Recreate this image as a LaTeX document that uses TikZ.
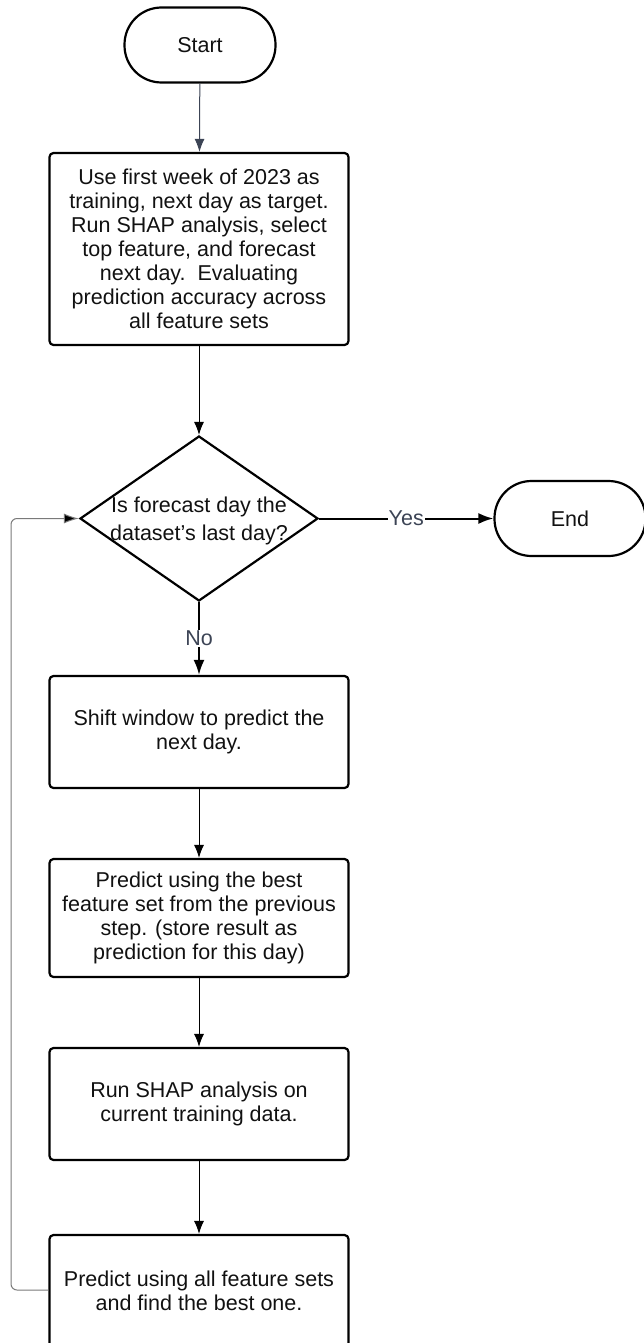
\documentclass[tikz,border=0pt]{standalone}
\usepackage{fontspec}
\setmainfont{Liberation Sans}
\usetikzlibrary{arrows.meta,shapes.geometric}
\definecolor{txt}{HTML}{111111}
\definecolor{slate}{HTML}{3C4455}
\definecolor{loopgray}{HTML}{7A7A7A}
\tikzset{
  base/.style={draw=black,line width=2.2pt,text=txt,align=center,font=\fontsize{21.5}{24}\selectfont},
  term/.style={base,rounded corners=37pt,minimum width=151pt,minimum height=75pt,inner sep=0pt},
  procbox/.style={base,rounded corners=4pt,minimum width=299pt,inner sep=0pt},
  decbox/.style={draw=black,line width=2.2pt,diamond,aspect=1.44,minimum width=238pt,minimum height=165pt,inner sep=0pt},
  thin/.style={draw=black,line width=1pt,-{Latex[length=13pt,width=10pt]}},
  thick/.style={draw=black,line width=2pt,-{Latex[length=15pt,width=11pt]}},
  lbl/.style={fill=white,inner sep=1pt,font=\fontsize{21.5}{24}\selectfont}
}
\begin{document}
\begin{tikzpicture}[x=1pt,y=-1pt]
\useasboundingbox (0,0) rectangle (643,1343);
\node[term] (start) at (200,45) {Start};
\node[procbox,minimum height=192pt] (b1) at (199,249) {Use first week of 2023 as\\training, next day as target.\\ Run SHAP analysis, select\\top feature, and forecast\\next day.\ \ Evaluating\\prediction accuracy across\\all feature sets};
\node[decbox] (dec) at (199,518.5) {};
\node[align=center,text=txt,font=\fontsize{21.5}{28}\selectfont,inner sep=0pt] (dtext) at (199,521) {Is forecast day the\\dataset’s last day?};
\node[term] (end) at (570,518.5) {End};
\node[procbox,minimum height=112pt] (b2) at (199,732) {Shift window to predict the\\next day.};
\node[procbox,minimum height=118pt] (b3) at (199,918) {Predict using the best\\feature set from the previous\\step. (store result as\\prediction for this day)};
\node[procbox,minimum height=112pt] (b4) at (199,1104) {Run SHAP analysis on\\current training data.};
\node[procbox,minimum height=112pt] (b5) at (199,1291) {Predict using all feature sets\\and find the best one.};

\draw[thin,draw=slate] (start) -- (b1);
\draw[thin] (b1) -- (dec);
\draw[thick] (dec.east) -- node[lbl,text=slate] (yes) {Yes} (end.west);
\draw[thick] (dec.south) -- node[lbl,text=slate,pos=0.5] (no) {No} (b2.north);
\draw[thin] (b2) -- (b3);
\draw[thin] (b3) -- (b4);
\draw[thin] (b4) -- (b5);
\coordinate (lb) at (11,1290);
\coordinate (lt) at (11,518.5);
\draw[line width=1pt,draw=loopgray,rounded corners=6pt,-{Latex[length=15pt,width=10pt,fill=black]}] (b5.west |- lb) -- (lb) -- (lt) -- (dec.west);
\end{tikzpicture}
\end{document}
